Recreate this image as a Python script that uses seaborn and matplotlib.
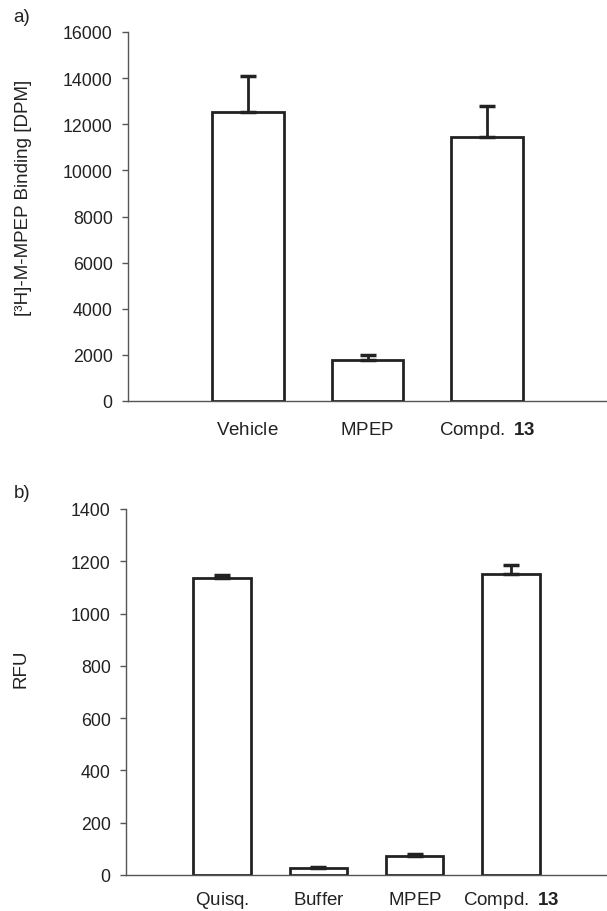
import matplotlib
matplotlib.use("Agg")
import matplotlib.pyplot as plt
import pandas as pd
import seaborn as sns

# panel a) binding
binding_labels = [r"$\mathrm{Vehicle}$", r"$\mathrm{MPEP}$", r"$\mathrm{Compd.}\;\mathbf{13}$"]
binding_values = [12540, 1770, 11450]
binding_errors = [1540, 220, 1320]

# panel b) fluorescence
rfu_labels = [r"$\mathrm{Quisq.}$", r"$\mathrm{Buffer}$", r"$\mathrm{MPEP}$",
              r"$\mathrm{Compd.}\;\mathbf{13}$"]
rfu_values = [1135, 28, 72, 1153]
rfu_errors = [13, 3, 7, 31]

sns.set_style("ticks")
plt.rcParams["font.family"] = ["Liberation Sans", "DejaVu Sans"]
plt.rcParams["mathtext.fontset"] = "custom"
plt.rcParams["mathtext.rm"] = "Liberation Sans"
plt.rcParams["mathtext.bf"] = "Liberation Sans:bold"
plt.rcParams["text.color"] = "#222222"
plt.rcParams["axes.labelcolor"] = "#222222"

AXIS_GRAY = "#555555"
EDGE = "#222222"
FS_Y = 12.8
FS_X = 13.5


def draw_panel(ax, labels, values, errors, ymax, ystep, ylabel, label_y, xpad):
    df = pd.DataFrame({"cond": labels, "val": values})
    sns.barplot(data=df, x="cond", y="val", order=labels, ax=ax,
                color="white", edgecolor=EDGE, linewidth=2.0, width=0.6,
                errorbar=None, saturation=1)
    pos = list(range(len(labels)))
    ax.errorbar(pos, values, yerr=[[0] * len(errors), errors], fmt="none",
                ecolor=EDGE, elinewidth=2.0, capsize=6, capthick=2.5, zorder=3)
    ax.set_xlim(-1, len(labels))
    ax.set_ylim(0, ymax)
    ax.set_yticks(range(0, ymax + 1, ystep))
    ax.set_xlabel("")
    ax.set_ylabel(ylabel, fontsize=13.5)
    ax.yaxis.set_label_coords(-0.20, label_y)
    sns.despine(ax=ax)
    for side in ["left", "bottom"]:
        ax.spines[side].set_color(AXIS_GRAY)
        ax.spines[side].set_linewidth(1.0)
    ax.tick_params(axis="y", length=4, width=1, color=AXIS_GRAY, pad=7,
                   labelsize=FS_Y, labelcolor="#222222")
    ax.tick_params(axis="x", length=0, pad=xpad, labelsize=FS_X,
                   labelcolor="#222222")
    for t in ax.get_xticklabels():
        t.set_verticalalignment("baseline")


fig = plt.figure(figsize=(6.07, 9.12), dpi=100)
ax_a = fig.add_axes([128 / 607, 1 - 402 / 912, 479 / 607, 369 / 912])
ax_b = fig.add_axes([126 / 607, 1 - 876 / 912, 481 / 607, 366 / 912])

draw_panel(ax_a, binding_labels, binding_values, binding_errors, 16000, 2000,
           "[³H]-M-MPEP Binding [DPM]", 0.553, 24)
draw_panel(ax_b, rfu_labels, rfu_values, rfu_errors, 1400, 200,
           "RFU", 0.566, 21)

fig.text(22 / 607, 1 - 18 / 912, "a)", fontsize=13.5, ha="center", va="center")
fig.text(22 / 607, 1 - 493 / 912, "b)", fontsize=13.5, ha="center", va="center")

fig.savefig("out.png", dpi=100)
